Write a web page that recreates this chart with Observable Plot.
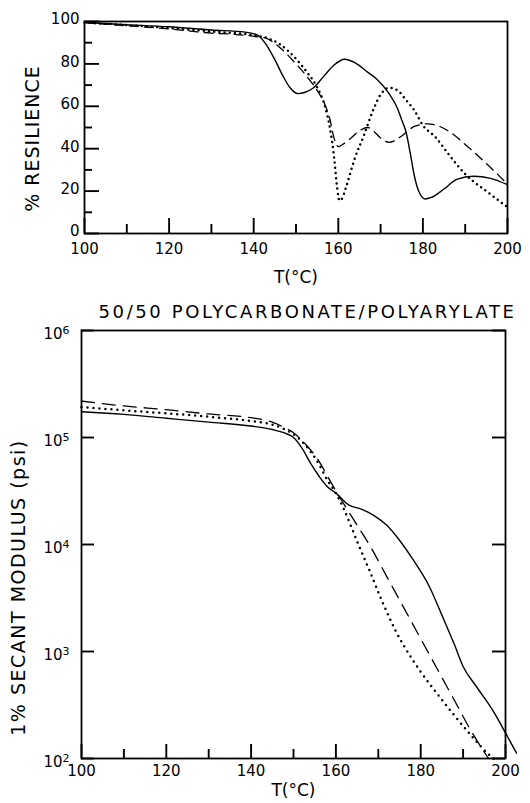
<!DOCTYPE html>
<html>
<head>
<meta charset="utf-8">
<script src="https://cdn.jsdelivr.net/npm/d3@7"></script>
<script src="https://cdn.jsdelivr.net/npm/@observablehq/plot@0.6"></script>
<style>
html,body{margin:0;padding:0;background:#fff;}
#chart{width:530px;height:803px;overflow:hidden;background:#fff;}
#chart svg{display:block;}
</style>
</head>
<body>
<div id="chart"></div>
<script>
// ---------- Top panel: % resilience vs T ----------
const resSolidT = [100,110,120,130,138,141,143,145,147,148.5,150.5,152,154,156.5,159,161.5,164,167,169,172,174,175,176,177,178,179,180.5,182,185,188,192,196,200];
const resSolidR = [99.5,98.5,97.5,96,95,93.5,89,82,74,69,66,66.5,68.5,74,79.5,82.2,80.5,76,73,66,59,53.5,48,38,27,20,16.3,17,21,25.5,27,26,23];

const resDashT = [100,110,120,125,130,135,140,143,146,150,153,155,157,158,159,160,161,163,165,167,168.5,170,172,175,178,181,184,187,190,195,200];
const resDashR = [99.5,98,96.5,95.5,94.5,94,93,92,88,80,73,67.5,60,54,45,41,42,45,48.5,50,48,45,43,46,50.5,51.7,50.5,47,42,33,23.3];

const resDotT = [100,110,120,130,140,143,146,150,153,155,157,158,159,159.7,160.3,161,162,164,166,168,170,172,174,176,178,180,183,186,190,195,200];
const resDotR = [99.5,98.3,97,95.3,93.5,92.3,89.5,82.4,75,69,59,50,36,22,15.5,17,23,36,46,57,65.5,68.7,67.5,63,58,51,45.4,37.6,28,20,12.4];

// ---------- Bottom panel: 1% secant modulus (psi, log10) vs T ----------
const modSolidT = [100,110,120,130,140,145,148,150,152,154,156,158,160,163,166,169,172,175,178,182,185,188,190,193,197,200,202.6];
const modSolidLog = [5.24,5.216,5.18,5.144,5.107,5.075,5.04,5.0,4.9,4.76,4.64,4.54,4.48,4.37,4.33,4.27,4.18,4.04,3.87,3.61,3.34,3.06,2.86,2.68,2.45,2.24,2.05];

const modDashT = [100,110,120,130,140,145,148,150,153,156,158,160,162,165,168,172,176,180,184,188,192,195,196];
const modDashLog = [5.34,5.295,5.26,5.22,5.185,5.144,5.09,5.044,4.93,4.78,4.64,4.5,4.37,4.18,3.99,3.7,3.41,3.12,2.83,2.54,2.25,2.06,2.0];

const modDotT = [100,110,120,130,140,145,148,150,153,156,158,160,162,165,168,171,174,177,180,184,188,192,196,197.5];
const modDotLog = [5.285,5.254,5.226,5.194,5.154,5.12,5.075,5.03,4.92,4.75,4.6,4.48,4.32,4.03,3.75,3.46,3.2,2.99,2.81,2.6,2.4,2.21,2.04,1.99];

// ---------- ticks & labels ----------
const xMajor = [100,120,140,160,180,200];
const xMinor = [110,130,150,170,190];
const resMajor = [0,20,40,60,80,100];
const resMinor = [10,30,50,70,90];
const modDecades = [1e2,1e3,1e4,1e5,1e6];

const topYLabel = "% RESILIENCE";
const xLabel = "T(\u00b0C)";
const botTitle = "50/50 POLYCARBONATE/POLYARYLATE";
const botYLabel = "1% SECANT MODULUS (psi)";

const font = "DejaVu Sans";
const rows = (T, V) => T.map((t, i) => ({T: t, v: V[i]}));
const rowsLog = (T, L) => T.map((t, i) => ({T: t, v: Math.pow(10, L[i])}));

const solidStyle = {stroke: "black", strokeWidth: 1.4, curve: "monotone-x"};
const dashStyleTop = {stroke: "black", strokeWidth: 1.3, strokeDasharray: "9,6", curve: "monotone-x"};
const dotStyleTop = {stroke: "black", strokeWidth: 2.5, strokeDasharray: "0,5.2", strokeLinecap: "round", curve: "monotone-x"};
const dashStyleBot = {stroke: "black", strokeWidth: 1.3, strokeDasharray: "13,8", curve: "monotone-x"};
const dotStyleBot = {stroke: "black", strokeWidth: 2.5, strokeDasharray: "0,6", strokeLinecap: "round", curve: "monotone-x"};

// panel geometry (pixels)
const W = 530;
const topM = {l: 84, r: 23, t: 21, b: 57}, topH = 290;
const botM = {l: 81, r: 25, t: 40, b: 45}, botH = 513;
const topFW = W - topM.l - topM.r, topFH = topH - topM.t - topM.b;
const botFW = W - botM.l - botM.r, botFH = botH - botM.t - botM.b;

// inward tick marks: full-frame ticks trimmed by insets
const tk = {stroke: "black", strokeWidth: 1.9};
const ticksBottom = (vals, len, fh) => Plot.tickX(vals, {x: d => d, insetTop: fh - len, ...tk});
const ticksLeft = (vals, len, fw) => Plot.tickY(vals, {y: d => d, insetRight: fw - len, ...tk});
const ticksRight = (vals, len, fw) => Plot.tickY(vals, {y: d => d, insetLeft: fw - len, ...tk});

const topPlot = Plot.plot({
  width: W, height: topH,
  marginLeft: topM.l, marginRight: topM.r, marginTop: topM.t, marginBottom: topM.b,
  style: {fontFamily: font, fontSize: "15px", color: "black", background: "white"},
  x: {domain: [100, 200]},
  y: {domain: [0, 100]},
  marks: [
    Plot.axisX(xMajor, {tickSize: 0, tickPadding: 10, label: null, fontSize: 15}),
    Plot.axisY(resMajor, {tickSize: 0, tickPadding: 5, dy: -2, label: null, fontSize: 15}),
    ticksBottom(xMinor, 9, topFH),
    ticksBottom(xMajor, 15, topFH),
    ticksLeft(resMinor, 8, topFW),
    ticksLeft(resMajor, 15, topFW),
    Plot.frame({stroke: "black", strokeWidth: 1.8}),
    Plot.line(rows(resSolidT, resSolidR), {x: "T", y: "v", ...solidStyle}),
    Plot.line(rows(resDashT, resDashR), {x: "T", y: "v", ...dashStyleTop}),
    Plot.line(rows(resDotT, resDotR), {x: "T", y: "v", ...dotStyleTop}),
    Plot.text([topYLabel], {text: d => d, frameAnchor: "left", rotate: -90, dx: -52, dy: 11, fontSize: 19, textAnchor: "middle", lineAnchor: "middle"}),
    Plot.text([xLabel], {text: d => d, frameAnchor: "bottom", dy: 44, fontSize: 17, lineAnchor: "middle"})
  ]
});

const botPlot = Plot.plot({
  width: W, height: botH,
  marginLeft: botM.l, marginRight: botM.r, marginTop: botM.t, marginBottom: botM.b,
  style: {fontFamily: font, fontSize: "15px", color: "black", background: "white"},
  x: {domain: [100, 200]},
  y: {type: "log", domain: [1e2, 1e6]},
  marks: [
    Plot.axisX(xMajor, {tickSize: 0, tickPadding: 7, label: null, fontSize: 15}),
    Plot.axisY(modDecades, {anchor: "left", tickSize: 0, tickPadding: 12, dy: 4, label: null, fontSize: 15,
      tickFormat: d => "10^" + Math.round(Math.log10(d))}),
    ticksBottom(xMinor, 9, botFH),
    ticksBottom(xMajor, 14, botFH),
    ticksLeft(modDecades, 13, botFW),
    ticksRight(modDecades, 13, botFW),
    Plot.frame({stroke: "black", strokeWidth: 1.8}),
    Plot.line(rowsLog(modSolidT, modSolidLog), {x: "T", y: "v", ...solidStyle}),
    Plot.line(rowsLog(modDashT, modDashLog), {x: "T", y: "v", ...dashStyleBot}),
    Plot.line(rowsLog(modDotT, modDotLog), {x: "T", y: "v", ...dotStyleBot}),
    Plot.text([botTitle], {text: d => d, frameAnchor: "top", dy: -18, dx: 14, fontSize: 18, lineAnchor: "middle"}),
    Plot.text([botYLabel], {text: d => d, frameAnchor: "left", rotate: -90, dx: -63, dy: 43, fontSize: 19, textAnchor: "middle", lineAnchor: "middle"}),
    Plot.text([xLabel], {text: d => d, frameAnchor: "bottom", dy: 32, fontSize: 17, lineAnchor: "middle"})
  ]
});

const spacing = {[topYLabel]: "1px", [botYLabel]: "1.5px", [botTitle]: "2.6px"};
for (const svg of [topPlot, botPlot]) {
  svg.querySelectorAll("text").forEach(t => {
    const s = spacing[t.textContent];
    if (s) t.setAttribute("letter-spacing", s);
    const m = /^10\^(\d)$/.exec(t.textContent);
    if (m) {
      t.textContent = "10";
      const ts = document.createElementNS("http://www.w3.org/2000/svg", "tspan");
      ts.setAttribute("dy", "-0.5em");
      ts.setAttribute("font-size", "11");
      ts.textContent = m[1];
      t.appendChild(ts);
    }
  });
}
document.getElementById("chart").append(topPlot, botPlot);
</script>
</body>
</html>
